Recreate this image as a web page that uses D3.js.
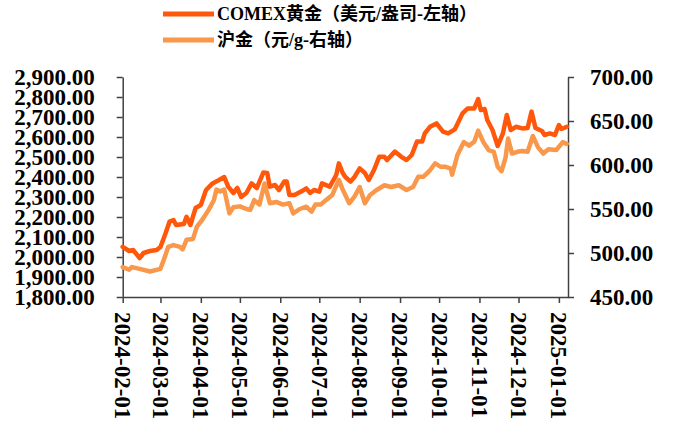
<!DOCTYPE html>
<html><head>
<meta charset="utf-8">
<script src="https://d3js.org/d3.v7.min.js"></script>
<style>
  body { margin: 0; background: #fff; }
  text { font-family: "Liberation Serif", "Times New Roman", "Noto Sans CJK SC", serif; font-weight: bold; fill: #000; }
  .axis path, .axis line { stroke: #404040; stroke-width: 1.5px; }
</style>
</head>
<body>
<svg id="chart" width="673" height="427"></svg>
<script>
// COMEX gold, USD/oz (left axis)
const comexDates = ["2024-02-01","2024-02-06","2024-02-09","2024-02-14","2024-02-17","2024-02-22","2024-02-27","2024-03-01",
  "2024-03-05","2024-03-08","2024-03-11","2024-03-13","2024-03-19","2024-03-21","2024-03-24","2024-03-28","2024-04-01",
  "2024-04-05","2024-04-10","2024-04-15","2024-04-19","2024-04-22","2024-04-26","2024-04-29","2024-05-02","2024-05-06",
  "2024-05-10","2024-05-14","2024-05-19","2024-05-22","2024-05-24","2024-05-28","2024-05-31","2024-06-04","2024-06-06",
  "2024-06-08","2024-06-12","2024-06-17","2024-06-21","2024-06-24","2024-06-27","2024-07-01","2024-07-03","2024-07-09",
  "2024-07-14","2024-07-16","2024-07-19","2024-07-21","2024-07-25","2024-07-28","2024-08-01","2024-08-05","2024-08-08",
  "2024-08-12","2024-08-16","2024-08-20","2024-08-22","2024-08-28","2024-09-02","2024-09-06","2024-09-10","2024-09-14",
  "2024-09-18","2024-09-20","2024-09-24","2024-09-29","2024-10-04","2024-10-08","2024-10-13","2024-10-16","2024-10-19",
  "2024-10-23","2024-10-28","2024-10-31","2024-11-02","2024-11-05","2024-11-07","2024-11-11","2024-11-15","2024-11-19",
  "2024-11-22","2024-11-25","2024-11-29","2024-12-04","2024-12-08","2024-12-11","2024-12-14","2024-12-19","2024-12-21",
  "2024-12-25","2024-12-29","2025-01-01","2025-01-03","2025-01-07"];
const comexValues = [2051,2030,2035,1995,2020,2030,2035,2050,
  2120,2177,2185,2160,2165,2201,2160,2245,2260,
  2335,2368,2385,2400,2352,2320,2345,2300,2320,
  2368,2345,2422,2420,2352,2360,2335,2377,2377,
  2310,2310,2327,2343,2320,2335,2327,2368,2352,
  2410,2468,2420,2400,2377,2400,2443,2420,2385,
  2435,2501,2501,2485,2527,2501,2485,2510,2577,
  2577,2618,2651,2668,2627,2618,2638,2677,2718,
  2743,2743,2790,2735,2740,2685,2635,2555,2618,
  2710,2635,2651,2643,2645,2727,2645,2630,2610,
  2618,2610,2660,2640,2651];

// SHFE gold, CNY/g (right axis)
const shfeDates = ["2024-02-01","2024-02-06","2024-02-08","2024-02-14","2024-02-22","2024-03-01","2024-03-04","2024-03-07",
  "2024-03-11","2024-03-16","2024-03-18","2024-03-21","2024-03-26","2024-03-29","2024-04-02","2024-04-07","2024-04-11",
  "2024-04-13","2024-04-16","2024-04-19","2024-04-23","2024-04-26","2024-05-01","2024-05-06","2024-05-09","2024-05-12",
  "2024-05-16","2024-05-20","2024-05-24","2024-05-29","2024-06-03","2024-06-08","2024-06-11","2024-06-16","2024-06-21",
  "2024-06-25","2024-06-28","2024-07-02","2024-07-06","2024-07-11","2024-07-16","2024-07-19","2024-07-24","2024-07-28",
  "2024-08-01","2024-08-05","2024-08-09","2024-08-14","2024-08-20","2024-08-25","2024-08-31","2024-09-06","2024-09-11",
  "2024-09-15","2024-09-19","2024-09-24","2024-09-28","2024-10-02","2024-10-06","2024-10-10","2024-10-11","2024-10-15",
  "2024-10-20","2024-10-24","2024-10-28","2024-10-31","2024-11-04","2024-11-08","2024-11-12","2024-11-15","2024-11-18",
  "2024-11-21","2024-11-23","2024-11-26","2024-11-30","2024-12-04","2024-12-08","2024-12-12","2024-12-16","2024-12-20",
  "2024-12-24","2024-12-30","2025-01-04","2025-01-07"];
const shfeValues = [484,481,484,482,479,482,494,507,
  509,507,504,515,516,530,537.5,549,560,
  572,570,572,545,552,553,550,549,560,
  555,579,556.5,558,555,556.5,545,550,552.6,
  547,555,555,560,566,583,572,556.5,564,
  575,556.5,566,571.6,577,575,577,571.6,575,
  586.7,586.7,594,602,598,598,596,589,611,
  626,622,626.5,639,626,617,615,598,593,
  608,630,613,615,616,615,633,620,613,
  618,617,626,624];

const leftTicks = d3.range(1800, 2901, 100);
const rightTicks = d3.range(450, 701, 50);
const legendLabels = ["COMEX黄金（美元/盎司-左轴）", "沪金（元/g-右轴）"];
const colors = ["#FF580A", "#F9984A"];

const svg = d3.select("#chart");
const parse = d3.timeParse("%Y-%m-%d");

const x = d3.scaleTime()
  .domain([parse("2024-02-01"), parse("2025-01-08")])
  .range([122.7, 568]);
const yL = d3.scaleLinear().domain([1800, 2900]).range([297, 77]);
const yR = d3.scaleLinear().domain([450, 700]).range([297, 77]);

// axes
const gx = svg.append("g").attr("class", "axis").attr("transform", "translate(0,297)")
  .call(d3.axisBottom(x).ticks(d3.timeMonth.every(1)).tickFormat(d3.timeFormat("%Y-%m-%d")).tickSize(6).tickSizeOuter(0));
gx.selectAll("text")
  .attr("font-size", 23)
  .attr("transform", "rotate(90)")
  .attr("x", 15).attr("y", 0).attr("dy", "0.35em")
  .attr("text-anchor", "start");

const gl = svg.append("g").attr("class", "axis").attr("transform", "translate(122.7,0)")
  .call(d3.axisLeft(yL).tickValues(leftTicks).tickFormat(d3.format(",.2f")).tickSize(6).tickSizeOuter(0));
gl.selectAll("text").attr("font-size", 23).attr("x", -28);

const gr = svg.append("g").attr("class", "axis").attr("transform", "translate(568,0)")
  .call(d3.axisRight(yR).tickValues(rightTicks).tickFormat(d3.format(".2f")).tickSize(6).tickSizeOuter(0));
gr.selectAll("text").attr("font-size", 23).attr("x", 22);

svg.selectAll(".axis .domain").attr("stroke", "#404040");

// lines
const comex = comexDates.map((d, i) => ({ date: parse(d), value: comexValues[i] }));
const shfe = shfeDates.map((d, i) => ({ date: parse(d), value: shfeValues[i] }));

svg.append("path").datum(shfe)
  .attr("fill", "none").attr("stroke", colors[1]).attr("stroke-width", 4.5)
  .attr("stroke-linejoin", "round").attr("stroke-linecap", "round")
  .attr("d", d3.line().x(d => x(d.date)).y(d => yR(d.value)));

svg.append("path").datum(comex)
  .attr("fill", "none").attr("stroke", colors[0]).attr("stroke-width", 4.5)
  .attr("stroke-linejoin", "round").attr("stroke-linecap", "round")
  .attr("d", d3.line().x(d => x(d.date)).y(d => yL(d.value)));

// legend
const legend = svg.append("g");
legendLabels.forEach((lab, i) => {
  const ly = 14 + i * 26;
  legend.append("line").attr("x1", 163).attr("x2", 214).attr("y1", ly).attr("y2", ly)
    .attr("stroke", colors[i]).attr("stroke-width", 5);
  legend.append("text").attr("x", 217).attr("y", ly).attr("dy", "0.35em")
    .attr("font-size", 18).text(lab);
});
</script>
</body>
</html>
